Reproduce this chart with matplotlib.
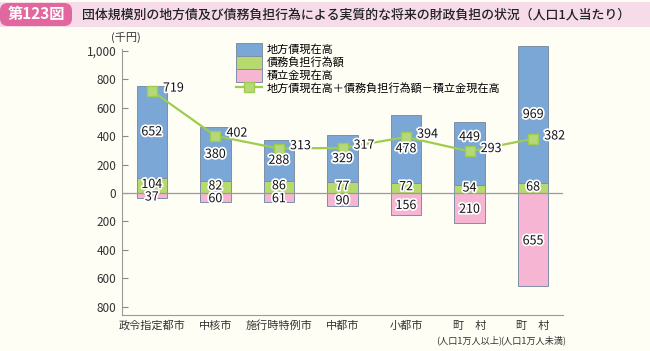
import numpy as np
import matplotlib.pyplot as plt
import matplotlib.patheffects as pe
from matplotlib.patches import FancyBboxPatch, Rectangle

plt.rcParams['font.family'] = ['Noto Sans CJK JP', 'DejaVu Sans']

# data (thousand yen per person)
categories = ['政令指定都市', '中核市', '施行時特例市', '中都市', '小都市', '町　村', '町　村']
sub_labels = ['', '', '', '', '', '(人口1万人以上)', '(人口1万人未満)']
local_bonds = [652, 380, 288, 329, 478, 449, 969]      # 地方債現在高
debt_burden = [104, 82, 86, 77, 72, 54, 68]            # 債務負担行為額
reserves = [37, 60, 61, 90, 156, 210, 655]             # 積立金現在高
net_burden = [719, 402, 313, 317, 394, 293, 382]       # 合計 - 積立金
yticks = [-800, -600, -400, -200, 0, 200, 400, 600, 800, 1000]
yticklabels = ['800', '600', '400', '200', '0', '200', '400', '600', '800', '1,000']

bg = '#FFFEF5'
c_blue = '#7BA7D6'
c_green = '#B7DA6E'
c_pink = '#F5B5D3'
c_line = '#9DCC4E'

fig = plt.figure(figsize=(6.5, 3.51), dpi=100, facecolor=bg)

# title band
fig.patches.append(Rectangle((0, 1 - 27 / 351), 1, 25 / 351, transform=fig.transFigure,
                             facecolor='#F6DCE8', edgecolor='none'))
fig.patches.append(FancyBboxPatch((0, 1 - 26 / 351), 72 / 650, 23 / 351,
                                  boxstyle='round,pad=0,rounding_size=0.012',
                                  transform=fig.transFigure, facecolor='#E2679F',
                                  edgecolor='none', mutation_aspect=1.8))
fig.text(36 / 650, 1 - 14.5 / 351, '第123図', color='white', fontsize=11,
         fontweight='bold', ha='center', va='center')
fig.text(82 / 650, 1 - 14.5 / 351,
         '団体規模別の地方債及び債務負担行為による実質的な将来の財政負担の状況（人口1人当たり）',
         color='#222222', fontsize=9.3, fontweight='medium', ha='left', va='center')

ax = fig.add_axes([122 / 650, 1 - 315 / 351, 441 / 650, 275 / 351], facecolor=bg)
x = np.arange(len(categories))
w = 0.48
edge = '#7F8FA6'

neg_res = [-v for v in reserves]
ax.bar(x, local_bonds, w, bottom=debt_burden, color=c_blue, edgecolor=edge, linewidth=0.7,
       label='地方債現在高', zorder=2)
ax.bar(x, debt_burden, w, color=c_green, edgecolor=edge, linewidth=0.7, label='債務負担行為額', zorder=2)
ax.bar(x, neg_res, w, color=c_pink, edgecolor=edge, linewidth=0.7, label='積立金現在高', zorder=2)
ax.axhline(0, color='#9A9A9A', linewidth=0.9, zorder=3)
ax.plot(x, net_burden, color=c_line, linewidth=1.6, marker='s', markersize=6.5,
        markerfacecolor='#B5D97A', markeredgecolor='#9DCC4E', zorder=4,
        label='地方債現在高＋債務負担行為額－積立金現在高')

halo = [pe.withStroke(linewidth=2.5, foreground='white')]
for i in range(len(x)):
    yb = debt_burden[i] + local_bonds[i] / 2
    if i == 5:
        yb += 115   # moved up in the original to clear the line label
    ax.text(x[i], yb, str(local_bonds[i]), ha='center', va='center',
            fontsize=9, color='#111111', path_effects=halo, zorder=5)
    ax.text(x[i], debt_burden[i] / 2 + 8, str(debt_burden[i]), ha='center', va='center',
            fontsize=9, color='#111111', path_effects=halo, zorder=5)
    ax.text(x[i], neg_res[i] / 2 - 10, str(reserves[i]), ha='center', va='center',
            fontsize=9, color='#111111', path_effects=halo, zorder=5)
    ax.annotate(str(net_burden[i]), (x[i], net_burden[i]), xytext=(8, 2),
                textcoords='offset points', ha='left', va='center', fontsize=9,
                color='#111111', path_effects=halo, zorder=6)

ax.set_xlim(-0.47, 6.47)
ax.set_ylim(-859, 1077)
ax.set_yticks(yticks)
ax.set_yticklabels(yticklabels, fontsize=8.5, color='#333333')
ax.set_xticks(x)
ax.set_xticklabels(categories, fontsize=8, color='#333333')
ax.tick_params(axis='y', direction='in', length=4, color='#888888', pad=4)
ax.tick_params(axis='x', length=0, pad=4)
for i, s in enumerate(sub_labels):
    if s:
        ax.text(x[i], -0.092, s, transform=ax.get_xaxis_transform(), ha='center', va='center',
                fontsize=6.6, color='#333333')
for s in ['top', 'right']:
    ax.spines[s].set_visible(False)
ax.spines['left'].set_bounds(-859, 1012)
ax.spines['left'].set_color('#9A9A9A')
ax.spines['bottom'].set_color('#9A9A9A')

fig.text(126 / 650, 1 - 37 / 351, '(千円)', fontsize=8, color='#333333', ha='center', va='center')

h, l = ax.get_legend_handles_labels()
order = [1, 2, 3, 0]
leg = ax.legend([h[i] for i in order], [l[i] for i in order], loc='upper left',
                bbox_to_anchor=(114 / 441, 1 - 3 / 275), fontsize=8, frameon=False,
                handlelength=2.3, handleheight=1.4, labelspacing=0.0, handletextpad=0.5,
                borderaxespad=0, borderpad=0)

fig.savefig('out.png', dpi=100, facecolor=bg)
